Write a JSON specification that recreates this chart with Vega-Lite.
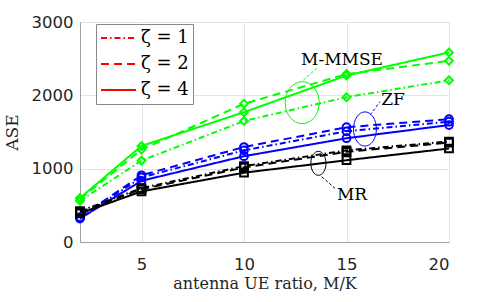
{
  "$schema": "https://vega.github.io/schema/vega-lite/v6.json",
  "width": 369,
  "height": 220,
  "autosize": "none",
  "padding": {"left": 80, "top": 22, "right": 49, "bottom": 60},
  "background": "white",
  "config": {
    "view": {"stroke": "#a0a0a0", "strokeWidth": 1},
    "axis": {
      "domainColor": "#a0a0a0",
      "gridColor": "#e3e3e3",
      "gridOpacity": 1,
      "ticks": false,
      "labelFont": "DejaVu Sans",
      "labelFontSize": 16.5,
      "labelColor": "#262626",
      "titleFont": "DejaVu Serif",
      "titleFontWeight": "normal",
      "titleFontSize": 17,
      "titleColor": "#262626"
    },
    "legend": {
      "orient": "none",
      "legendX": 16,
      "legendY": 2,
      "fillColor": "white",
      "strokeColor": "#888888",
      "padding": 4,
      "symbolType": "stroke",
      "symbolStrokeColor": "#ff0000",
      "symbolStrokeWidth": 2,
      "symbolSize": 1225,
      "clipHeight": 20,
      "rowPadding": 6,
      "labelFont": "DejaVu Serif",
      "labelFontSize": 18,
      "labelColor": "#000000",
      "labelOffset": 4
    }
  },
  "datasets": {
    "curves": [
      {"method": "M-MMSE", "zeta": "1", "ratio": 2, "ase": 560},
      {"method": "M-MMSE", "zeta": "1", "ratio": 5, "ase": 1110},
      {"method": "M-MMSE", "zeta": "1", "ratio": 10, "ase": 1650},
      {"method": "M-MMSE", "zeta": "1", "ratio": 15, "ase": 1975},
      {"method": "M-MMSE", "zeta": "1", "ratio": 20, "ase": 2205},
      {"method": "M-MMSE", "zeta": "2", "ratio": 2, "ase": 585},
      {"method": "M-MMSE", "zeta": "2", "ratio": 5, "ase": 1260},
      {"method": "M-MMSE", "zeta": "2", "ratio": 10, "ase": 1885},
      {"method": "M-MMSE", "zeta": "2", "ratio": 15, "ase": 2290},
      {"method": "M-MMSE", "zeta": "2", "ratio": 20, "ase": 2470},
      {"method": "M-MMSE", "zeta": "4", "ratio": 2, "ase": 600},
      {"method": "M-MMSE", "zeta": "4", "ratio": 5, "ase": 1310},
      {"method": "M-MMSE", "zeta": "4", "ratio": 10, "ase": 1770},
      {"method": "M-MMSE", "zeta": "4", "ratio": 15, "ase": 2270},
      {"method": "M-MMSE", "zeta": "4", "ratio": 20, "ase": 2585},
      {"method": "ZF", "zeta": "1", "ratio": 2, "ase": 330},
      {"method": "ZF", "zeta": "1", "ratio": 5, "ase": 880},
      {"method": "ZF", "zeta": "1", "ratio": 10, "ase": 1250},
      {"method": "ZF", "zeta": "1", "ratio": 15, "ase": 1510},
      {"method": "ZF", "zeta": "1", "ratio": 20, "ase": 1640},
      {"method": "ZF", "zeta": "2", "ratio": 2, "ase": 340},
      {"method": "ZF", "zeta": "2", "ratio": 5, "ase": 910},
      {"method": "ZF", "zeta": "2", "ratio": 10, "ase": 1295},
      {"method": "ZF", "zeta": "2", "ratio": 15, "ase": 1565},
      {"method": "ZF", "zeta": "2", "ratio": 20, "ase": 1675},
      {"method": "ZF", "zeta": "4", "ratio": 2, "ase": 320},
      {"method": "ZF", "zeta": "4", "ratio": 5, "ase": 835},
      {"method": "ZF", "zeta": "4", "ratio": 10, "ase": 1170},
      {"method": "ZF", "zeta": "4", "ratio": 15, "ase": 1415},
      {"method": "ZF", "zeta": "4", "ratio": 20, "ase": 1595},
      {"method": "MR", "zeta": "1", "ratio": 2, "ase": 420},
      {"method": "MR", "zeta": "1", "ratio": 5, "ase": 735},
      {"method": "MR", "zeta": "1", "ratio": 10, "ase": 1035},
      {"method": "MR", "zeta": "1", "ratio": 15, "ase": 1250},
      {"method": "MR", "zeta": "1", "ratio": 20, "ase": 1370},
      {"method": "MR", "zeta": "2", "ratio": 2, "ase": 410},
      {"method": "MR", "zeta": "2", "ratio": 5, "ase": 720},
      {"method": "MR", "zeta": "2", "ratio": 10, "ase": 1015},
      {"method": "MR", "zeta": "2", "ratio": 15, "ase": 1230},
      {"method": "MR", "zeta": "2", "ratio": 20, "ase": 1355},
      {"method": "MR", "zeta": "4", "ratio": 2, "ase": 390},
      {"method": "MR", "zeta": "4", "ratio": 5, "ase": 690},
      {"method": "MR", "zeta": "4", "ratio": 10, "ase": 945},
      {"method": "MR", "zeta": "4", "ratio": 15, "ase": 1115},
      {"method": "MR", "zeta": "4", "ratio": 20, "ase": 1275}
    ],
    "ellipses": [
      {"method": "M-MMSE", "ratio": 12.84, "ase": 1900},
      {"method": "ZF", "ratio": 15.9, "ase": 1541},
      {"method": "MR", "ratio": 13.63, "ase": 1073}
    ],
    "leaders": [
      {"method": "M-MMSE", "ratio": 12.9, "ase": 2209, "ratio2": 13.55, "ase2": 2369},
      {"method": "ZF", "ratio": 16.15, "ase": 1732, "ratio2": 16.63, "ase2": 1913},
      {"method": "MR", "ratio": 13.79, "ase": 891, "ratio2": 14.44, "ase2": 732}
    ],
    "labels": [
      {"text": "M-MMSE", "ratio": 14.78, "ase": 2482},
      {"text": "ZF", "ratio": 17.27, "ase": 1936},
      {"text": "MR", "ratio": 15.27, "ase": 641}
    ]
  },
  "resolve": {"scale": {"shape": "independent", "size": "independent"}},
  "layer": [
    {
      "data": {"name": "curves"},
      "mark": {"type": "line", "strokeWidth": 2},
      "encoding": {
        "x": {
          "field": "ratio", "type": "quantitative",
          "scale": {"domain": [2, 20], "nice": false, "zero": false},
          "axis": {"values": [5, 10, 15, 20], "grid": true, "labelPadding": 14, "title": "antenna UE ratio, M/K", "titleFontSize": 16, "titlePadding": 3}
        },
        "y": {
          "field": "ase", "type": "quantitative",
          "scale": {"domain": [0, 3000], "nice": false},
          "axis": {"values": [0, 1000, 2000, 3000], "format": "d", "grid": true, "labelPadding": 7, "title": "ASE", "titlePadding": 10}
        },
        "color": {
          "field": "method", "type": "nominal",
          "scale": {"domain": ["M-MMSE", "ZF", "MR"], "range": ["#00ff00", "#0000ff", "#000000"]},
          "legend": null
        },
        "strokeDash": {
          "field": "zeta", "type": "nominal",
          "scale": {"domain": ["1", "2", "4"], "range": [[6, 3, 1.5, 3], [8, 5], [1, 0]]},
          "legend": {"title": null, "labelExpr": "'ζ = ' + datum.label"}
        },
        "detail": {"field": "zeta"}
      }
    },
    {
      "data": {"name": "curves"},
      "mark": {"type": "point", "filled": false, "strokeWidth": 2, "size": 60, "opacity": 1},
      "encoding": {
        "x": {"field": "ratio", "type": "quantitative"},
        "y": {"field": "ase", "type": "quantitative"},
        "color": {"field": "method", "type": "nominal", "legend": null},
        "shape": {
          "field": "method", "type": "nominal",
          "scale": {"domain": ["M-MMSE", "ZF", "MR"], "range": ["diamond", "circle", "square"]},
          "legend": null
        }
      }
    },
    {
      "data": {"name": "ellipses"},
      "mark": {"type": "point", "filled": false, "strokeWidth": 1, "opacity": 1},
      "encoding": {
        "x": {"field": "ratio", "type": "quantitative"},
        "y": {"field": "ase", "type": "quantitative"},
        "color": {"field": "method", "type": "nominal", "legend": null},
        "shape": {
          "field": "method", "type": "nominal",
          "scale": {
            "domain": ["M-MMSE", "ZF", "MR"],
            "range": [
              "M 0.81,0 C 0.81,0.552 0.447,1 0,1 C -0.447,1 -0.81,0.552 -0.81,0 C -0.81,-0.552 -0.447,-1 0,-1 C 0.447,-1 0.81,-0.552 0.81,0 Z",
              "M 0.67,0 C 0.67,0.552 0.37,1 0,1 C -0.37,1 -0.67,0.552 -0.67,0 C -0.67,-0.552 -0.37,-1 0,-1 C 0.37,-1 0.67,-0.552 0.67,0 Z",
              "M 0.63,0 C 0.63,0.552 0.348,1 0,1 C -0.348,1 -0.63,0.552 -0.63,0 C -0.63,-0.552 -0.348,-1 0,-1 C 0.348,-1 0.63,-0.552 0.63,0 Z"
            ]
          },
          "legend": null
        },
        "size": {
          "field": "method", "type": "nominal",
          "scale": {"domain": ["M-MMSE", "ZF", "MR"], "range": [1764, 576, 729]},
          "legend": null
        }
      }
    },
    {
      "data": {"name": "leaders"},
      "mark": {"type": "rule", "strokeWidth": 1, "strokeDash": [3, 2]},
      "encoding": {
        "x": {"field": "ratio", "type": "quantitative"},
        "y": {"field": "ase", "type": "quantitative"},
        "x2": {"field": "ratio2"},
        "y2": {"field": "ase2"},
        "color": {"field": "method", "type": "nominal", "legend": null}
      }
    },
    {
      "data": {"name": "labels"},
      "mark": {"type": "text", "font": "DejaVu Serif", "fontSize": 17, "color": "#000000", "align": "center", "baseline": "middle"},
      "encoding": {
        "x": {"field": "ratio", "type": "quantitative"},
        "y": {"field": "ase", "type": "quantitative"},
        "text": {"field": "text"}
      }
    }
  ]
}
